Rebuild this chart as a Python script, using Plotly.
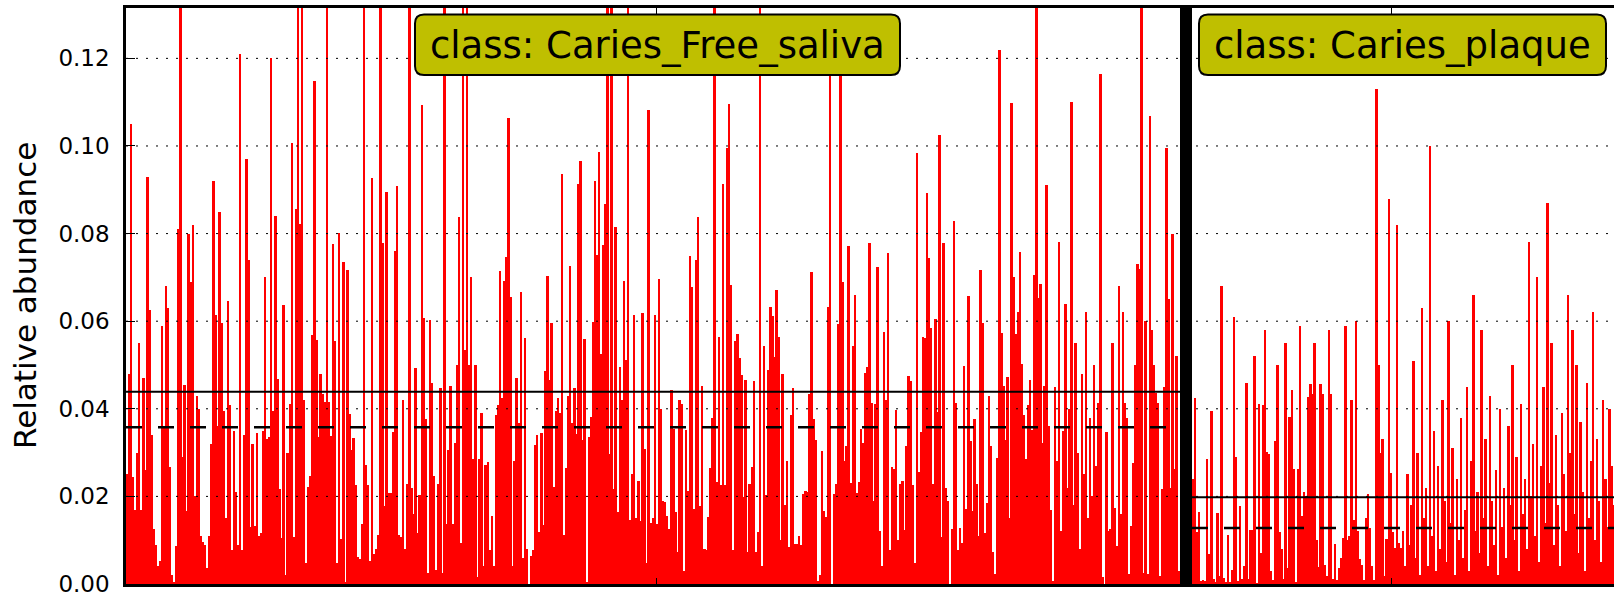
import plotly.graph_objects as go

# ---------------- data ----------------
saliva_a = [0.025, 0.048, 0.105, 0.0245, 0.017, 0.030, 0.055, 0.017, 0.047, 0.026, 0.093, 0.0625, 0.034, 0.0126, 0.009, 0.004, 0.0053, 0.059, 0.036, 0.068, 0.063, 0.0266, 0.002, 0.0003, 0.0087, 0.081, 0.15, 0.029, 0.0454, 0.0166, 0.080, 0.069, 0.082, 0.020, 0.043, 0.040, 0.011, 0.0095, 0.0088, 0.0036, 0.011, 0.032, 0.092, 0.0614, 0.036, 0.085, 0.0597, 0.0395, 0.015, 0.0645, 0.0408, 0.0078, 0.035, 0.021, 0.009, 0.121, 0.0078, 0.034, 0.097, 0.074, 0.013, 0.032]
saliva_b = [0.0133, 0.0344, 0.011, 0.0116, 0.035, 0.070, 0.033, 0.0335, 0.120, 0.0395, 0.084, 0.0468, 0.0216, 0.0105, 0.0637, 0.002, 0.030, 0.041, 0.1006, 0.0107, 0.0856, 0.15, 0.0823, 0.16, 0.0419, 0.0048, 0.0221, 0.0247, 0.0569, 0.1148, 0.0557, 0.0336, 0.0479, 0.0434, 0.0416, 0.15, 0.0416, 0.0338, 0.0776, 0.0554, 0.0048, 0.0801, 0.0103, 0.0736, 0.0003, 0.0717, 0.0388, 0.0306, 0.0334, 0.0227, 0.0062, 0.0058, 0.0138, 0.15, 0.0271, 0.0225, 0.0053, 0.0926, 0.0068, 0.0081, 0.0111, 0.15, 0.0778, 0.0177, 0.0895, 0.0207]
saliva_c = [0.0207, 0.0347, 0.076, 0.0909, 0.0111, 0.0107, 0.0419, 0.0081, 0.0229, 0.15, 0.0219, 0.016, 0.0494, 0.0116, 0.0203, 0.1093, 0.0607, 0.0377, 0.0024, 0.0602, 0.0458, 0.0247, 0.0033, 0.0229, 0.0447, 0.0024, 0.15, 0.0138, 0.0306, 0.0451, 0.0138, 0.0321, 0.0499, 0.0839, 0.0094, 0.15, 0.0534, 0.15, 0.05, 0.070, 0.0286, 0.050, 0.0016, 0.0286, 0.039, 0.0042, 0.0271, 0.0279, 0.0077, 0.0155, 0.0042, 0.0386, 0.0408, 0.0715, 0.0425, 0.0692, 0.0747, 0.1065, 0.0656, 0.0042, 0.0281, 0.047, 0.0367, 0.0666, 0.0059, 0.0562, 0.0081, 0.0]
saliva_d = [0.0064, 0.0077, 0.0318, 0.034, 0.0118, 0.0345, 0.0135, 0.0486, 0.0703, 0.0466, 0.0597, 0.0222, 0.0396, 0.0425, 0.039, 0.0936, 0.0111, 0.0264, 0.0429, 0.0726, 0.0368, 0.0447, 0.0342, 0.0913, 0.0966, 0.0329, 0.056, 0.0003, 0.0335, 0.0382, 0.0598, 0.0919, 0.075, 0.0987, 0.0525, 0.0774, 0.0868, 0.15, 0.0297, 0.15, 0.0216, 0.0815, 0.0164, 0.0495, 0.0419, 0.0692, 0.0512, 0.15, 0.0146, 0.0251, 0.0614, 0.0151, 0.0236, 0.0144, 0.0619, 0.0309, 0.0048, 0.1083, 0.014, 0.0151, 0.0615, 0.0138, 0.0697, 0.0399, 0.019]
saliva_e = [0.0187, 0.0155, 0.0125, 0.0443, 0.0355, 0.0164, 0.0074, 0.0419, 0.041, 0.003, 0.0351, 0.0212, 0.0749, 0.0678, 0.0172, 0.074, 0.0839, 0.0177, 0.0451, 0.0081, 0.0078, 0.0153, 0.0264, 0.0379, 0.15, 0.0233, 0.0563, 0.0225, 0.0913, 0.0225, 0.0996, 0.1096, 0.0682, 0.0077, 0.0554, 0.0571, 0.0517, 0.0477, 0.0199, 0.0466, 0.0074, 0.0229, 0.0266, 0.0464, 0.0074, 0.0118, 0.15, 0.0042, 0.0543, 0.0203, 0.0489, 0.0632, 0.0612, 0.0518, 0.0672, 0.0564, 0.01, 0.0479, 0.0181, 0.0281, 0.0085, 0.0386, 0.0447, 0.0091]
saliva_f = [0.0091, 0.0109, 0.009, 0.0206, 0.0212, 0.0209, 0.0434, 0.0713, 0.0377, 0.0329, 0.0007, 0.002, 0.0303, 0.0166, 0.0152, 0.0632, 0.125, 0.0, 0.0206, 0.0229, 0.0593, 0.118, 0.0689, 0.028, 0.0315, 0.0771, 0.0231, 0.0543, 0.066, 0.0207, 0.0233, 0.0353, 0.0323, 0.0482, 0.0495, 0.0778, 0.0414, 0.019, 0.041, 0.0724, 0.012, 0.004, 0.0576, 0.0421, 0.0756, 0.0077, 0.0268, 0.0262, 0.0397, 0.01, 0.0229, 0.0236, 0.0123, 0.0316, 0.0475, 0.0464, 0.0225, 0.0048, 0.0983, 0.0255, 0.0347, 0.0564]
saliva_g = [0.0562, 0.0893, 0.0745, 0.0584, 0.0229, 0.0604, 0.0393, 0.1024, 0.0107, 0.0778, 0.0219, 0.019, 0.0, 0.0125, 0.0828, 0.0414, 0.0077, 0.0129, 0.0094, 0.0497, 0.0172, 0.0658, 0.0327, 0.0166, 0.0377, 0.0229, 0.0109, 0.0717, 0.0595, 0.0116, 0.0186, 0.0429, 0.0316, 0.0074, 0.0022, 0.0287, 0.122, 0.0573, 0.0451, 0.0329, 0.0473, 0.0151, 0.1098, 0.0701, 0.0571, 0.0621, 0.0759, 0.0503, 0.0386, 0.0286, 0.0408, 0.0466, 0.0351, 0.0706, 0.15, 0.0652, 0.0686, 0.0321, 0.0451, 0.091, 0.036, 0.0168, 0.0007]
saliva_h = [0.045, 0.028, 0.078, 0.012, 0.035, 0.064, 0.022, 0.040, 0.110, 0.018, 0.055, 0.030, 0.008, 0.048, 0.025, 0.062, 0.015, 0.038, 0.020, 0.050,
            0.027, 0.0413, 0.1164, 0.0016, 0.0, 0.0347, 0.012, 0.0126, 0.055, 0.0173, 0.0086, 0.068, 0.0159, 0.062, 0.0413, 0.038, 0.0023, 0.0132, 0.0277, 0.05, 0.073, 0.072, 0.14, 0.0025, 0.06, 0.0023, 0.1069, 0.058, 0.05, 0.0436, 0.0414, 0.0018, 0.0216, 0.0449, 0.0996, 0.065, 0.022, 0.08, 0.0262, 0.052, 0.003]

plaque_a = [0.024, 0.0424, 0.0119, 0.0164, 0.0006, 0.001, 0.0008, 0.0285, 0.0069, 0.0395, 0.0012, 0.0004, 0.0163, 0.0018, 0.068, 0.0014, 0.0005, 0.0111, 0.0004, 0.0033, 0.061, 0.0289, 0.0006, 0.0178, 0.0011, 0.004, 0.046, 0.0011, 0.0123, 0.0123, 0.052, 0.0002, 0.0411, 0.0071, 0.0408, 0.058, 0.0302, 0.0296, 0.0029, 0.001, 0.0327, 0.05, 0.0118, 0.0079, 0.0011, 0.055, 0.0037, 0.0382, 0.0444, 0.0262, 0.0005]
plaque_b = [0.0263, 0.059, 0.0155, 0.021, 0.020, 0.0428, 0.0456, 0.0434, 0.055, 0.010, 0.0039, 0.0456, 0.0434, 0.0044, 0.0018, 0.058, 0.0434, 0.0011, 0.0092, 0.001, 0.0037, 0.006, 0.0105, 0.059, 0.0101, 0.0109, 0.042, 0.0147, 0.060, 0.012, 0.0056, 0.0044, 0.001, 0.015, 0.0205, 0.0128, 0.004, 0.001, 0.113, 0.05, 0.030, 0.033, 0.0018, 0.0103, 0.088, 0.0253, 0.0118, 0.0082, 0.082, 0.0094, 0.0082]
plaque_c = [0.012, 0.004, 0.025, 0.009, 0.018, 0.051, 0.006, 0.030, 0.002, 0.063, 0.015, 0.022, 0.004, 0.100, 0.011, 0.035, 0.003, 0.027, 0.008, 0.042, 0.019, 0.005, 0.060, 0.014, 0.031, 0.002, 0.024, 0.010, 0.038, 0.006, 0.017, 0.045, 0.003, 0.028, 0.066, 0.012, 0.021, 0.007, 0.058, 0.015, 0.033, 0.004, 0.043, 0.019, 0.009, 0.026, 0.002, 0.040, 0.013, 0.022, 0.006]
plaque_d = [0.036, 0.018, 0.050, 0.010, 0.029, 0.003, 0.041, 0.016, 0.024, 0.008, 0.078, 0.020, 0.032, 0.011, 0.070, 0.005, 0.027, 0.045, 0.014, 0.087, 0.023, 0.055, 0.009, 0.034, 0.018, 0.004, 0.039, 0.025, 0.012, 0.066, 0.030, 0.058, 0.016, 0.050, 0.007, 0.037, 0.021, 0.003, 0.046, 0.015, 0.028, 0.062, 0.010, 0.033, 0.019, 0.005, 0.042, 0.024, 0.013, 0.040, 0.027, 0.018]

class_names = ["Caries_Free_saliva", "Caries_plaque"]
class_means = [0.0439, 0.0198]
class_medians = [0.0358, 0.0128]

y_tick_vals = [0.00, 0.02, 0.04, 0.06, 0.08, 0.10, 0.12]
y_tick_text = ["0.00", "0.02", "0.04", "0.06", "0.08", "0.10", "0.12"]
y_max = 0.1315
y_title = "Relative abundance"

# ---------------- build ----------------
saliva = saliva_a + saliva_b + saliva_c + saliva_d + saliva_e + saliva_f + saliva_g + saliva_h
plaque = plaque_a + plaque_b + plaque_c + plaque_d
NL, NR = len(saliva), len(plaque)

FW, FH = 1614, 597
ML, MT, MB = 126, 8, 13
PW, PH = FW - ML, FH - MT - MB
left_px = 1180 - ML            # pixel width used by first class
ppu = left_px / NL             # pixels per sample
sep_px = 12
gap_u = sep_px / ppu
x_left = list(range(NL))
r0 = NL - 0.5 + gap_u          # left edge of second class
x_right = [r0 + 0.5 + j for j in range(NR)]
x_lo = -0.5
x_hi = x_lo + PW / ppu
sep_x = NL - 0.5 + gap_u / 2

fig = go.Figure()
fig.add_trace(go.Bar(x=x_left, y=saliva, width=0.95, marker=dict(color="#ff0000", line=dict(width=0)),
                     name=class_names[0], showlegend=False))
fig.add_trace(go.Bar(x=x_right, y=plaque, width=0.95, marker=dict(color="#ff0000", line=dict(width=0)),
                     name=class_names[1], showlegend=False))

shapes = []
for v in y_tick_vals[1:]:
    shapes.append(dict(type="line", xref="paper", yref="y", x0=0, x1=1, y0=v, y1=v,
                       line=dict(color="black", width=1, dash="2px,8px"), layer="above"))
spans = [(x_lo, NL - 0.5), (r0, x_hi)]
for (a, b), m, md in zip(spans, class_means, class_medians):
    shapes.append(dict(type="line", xref="x", yref="y", x0=a, x1=b, y0=m, y1=m,
                       line=dict(color="black", width=2), layer="above"))
    shapes.append(dict(type="line", xref="x", yref="y", x0=a, x1=b, y0=md, y1=md,
                       line=dict(color="black", width=2.5, dash="16px,16px"), layer="above"))
shapes.append(dict(type="line", xref="x", yref="paper", x0=sep_x, x1=sep_x, y0=0, y1=1,
                   line=dict(color="black", width=sep_px), layer="above"))


def px2paper(px, py):
    return (px - ML) / PW, (FH - MB - py) / PH


def rounded_box(x0, y0, x1, y1, r):
    def P(px, py):
        X, Y = px2paper(px, py)
        return f"{X:.5f},{Y:.5f}"
    return (f"M {P(x0 + r, y0)} L {P(x1 - r, y0)} Q {P(x1, y0)} {P(x1, y0 + r)} "
            f"L {P(x1, y1 - r)} Q {P(x1, y1)} {P(x1 - r, y1)} "
            f"L {P(x0 + r, y1)} Q {P(x0, y1)} {P(x0, y1 - r)} "
            f"L {P(x0, y0 + r)} Q {P(x0, y0)} {P(x0 + r, y0)} Z")


boxes = [(415, 14.5, 900, 75), (1199, 14.5, 1606, 75)]
annotations = []
for (bx0, by0, bx1, by1), cname in zip(boxes, class_names):
    shapes.append(dict(type="path", xref="paper", yref="paper", path=rounded_box(bx0, by0, bx1, by1, 9),
                       fillcolor="#bfbf00", line=dict(color="black", width=2), layer="above"))
    cx, cy = px2paper((bx0 + bx1) / 2, (by0 + by1) / 2 + 1)
    annotations.append(dict(x=cx, y=cy, xref="paper", yref="paper", text="class: " + cname,
                            showarrow=False, xanchor="center", yanchor="middle",
                            font=dict(family="DejaVu Sans", size=37, color="black")))

tx, ty = px2paper(25, (MT + FH - MB) / 2)
annotations.append(dict(x=tx, y=ty, xref="paper", yref="paper", text=y_title, textangle=-90,
                        showarrow=False, xanchor="center", yanchor="middle",
                        font=dict(family="DejaVu Sans", size=31, color="black")))

x_tick_px = [656, 1391]
x_tick_vals = [x_lo + (p - ML) / ppu for p in x_tick_px]

fig.update_layout(
    width=FW, height=FH,
    margin=dict(l=ML, r=0, t=MT, b=MB, pad=0),
    paper_bgcolor="white", plot_bgcolor="white",
    bargap=0, barmode="overlay",
    shapes=shapes, annotations=annotations,
    font=dict(family="DejaVu Sans", color="black"),
    xaxis=dict(range=[x_lo, x_hi], showgrid=False, zeroline=False, showline=True, mirror="ticks",
               linecolor="black", linewidth=2.5, ticks="inside", ticklen=6, tickwidth=1.2,
               tickcolor="black", tickvals=x_tick_vals, showticklabels=False),
    yaxis=dict(range=[0, y_max], showgrid=False, zeroline=False, showline=True, mirror=False,
               linecolor="black", linewidth=2.5, ticks="inside", ticklen=9, tickwidth=1.2,
               tickcolor="black", tickvals=y_tick_vals, ticktext=y_tick_text,
               tickfont=dict(family="DejaVu Sans", size=23, color="black"),
               ticklabelstandoff=9, ticklabeloverflow="allow"),
)

fig.write_html("out.html", config={"displayModeBar": False},
               post_script="document.body.style.margin='0';document.body.style.padding='0';")
